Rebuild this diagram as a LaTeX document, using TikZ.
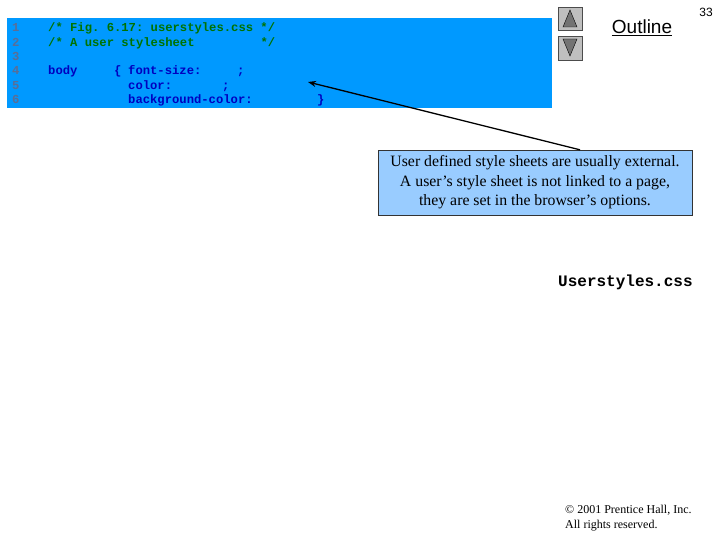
\documentclass[tikz,border=0pt]{standalone}
\usepackage{fontspec}
\usetikzlibrary{arrows.meta}
\setmainfont{Liberation Serif}
\setsansfont{Liberation Sans}
\setmonofont{Liberation Mono}
\begin{document}
\begin{tikzpicture}[x=1pt,y=-1pt,
  code/.style={anchor=base west,inner sep=0pt,font=\ttfamily\bfseries\fontsize{12.2}{14}\selectfont},
  num/.style={code,text=black!45!blue!60!white},
  cmt/.style={code,text=green!45!black},
  kw/.style={code,text=blue!75!black},
  btn/.style={draw=black!70,fill=black!25,line width=0.6pt}]
\useasboundingbox (0,0) rectangle (720,540);
\definecolor{codebg}{RGB}{0,153,255}
\definecolor{notebg}{RGB}{153,204,255}
\definecolor{numcol}{RGB}{90,110,150}
\fill[codebg] (7,18) rectangle (552,108);
\foreach \i/\y in {1/32,2/46.5,3/61,4/75,5/89.5,6/104}
  \node[num,text=numcol] (n\i) at (12,\y) {\i};
\node[cmt] (c1) at (48,32) {/* Fig. 6.17: userstyles.css */};
\node[cmt] (c2) at (48,46.5) {/* A user stylesheet{ }{ }{ }{ }{ }{ }{ }{ }{ }*/};
\node[kw] (b) at (48,75) {body};
\node[kw] (br) at (114,75) {\{};
\node[kw] (fs) at (128,75) {font-size:};
\node[kw] (s1) at (237,75) {;};
\node[kw] (co) at (128,89.5) {color:};
\node[kw] (s2) at (222,89.5) {;};
\node[kw] (bg) at (128,104) {background-color:};
\node[kw] (cl) at (317,104) {\}};
\coordinate (tip) at (308,82);
\node[draw=black!80,fill=notebg,minimum width=314pt,minimum height=65pt,align=center,inner sep=2pt,
  font=\fontsize{15.8}{19.5}\selectfont] (note) at (535,182.5)
  {User defined style sheets are usually external.\\A user’s style sheet is not linked to a page,\\they are set in the browser’s options.};
\draw[-{Stealth[length=8pt]},line width=1.3pt] ([xshift=45pt]note.north) -- (tip);
\node[btn,minimum width=24pt,minimum height=23pt,inner sep=0pt] (up) at (570,18.5) {};
\fill[black!55,draw=black] (563,27) -- (570,10) -- (577,27) -- cycle;
\node[btn,minimum width=24pt,minimum height=24pt,inner sep=0pt] (dn) at (570,48) {};
\fill[black!55,draw=black] (563,39) -- (570,56) -- (577,39) -- cycle;
\node[font=\sffamily\fontsize{19}{20}\selectfont,inner sep=0pt] (ol) at (642,28) {\underline{Outline}};
\node[font=\sffamily\fontsize{12}{14}\selectfont] (pg) at (706,12) {33};
\node[code,anchor=west,font=\ttfamily\bfseries\fontsize{16}{18}\selectfont] (us) at (558,282) {Userstyles.css};
\node[anchor=west,align=left,inner sep=0pt,font=\fontsize{12}{15}\selectfont] (cp) at (565,518)
  {© 2001 Prentice Hall, Inc.\\All rights reserved.};
\end{tikzpicture}
\end{document}
